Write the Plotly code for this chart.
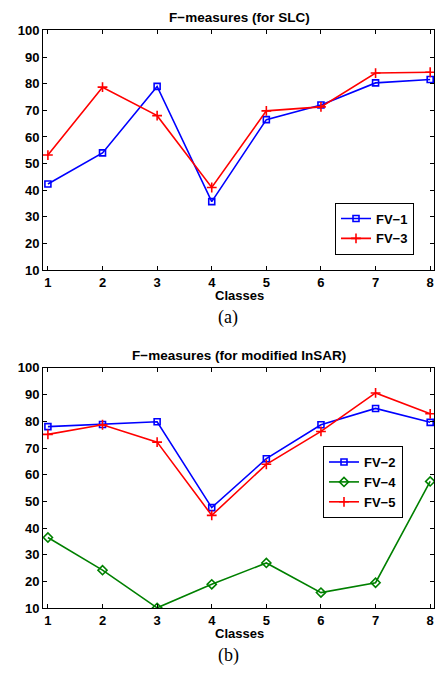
import plotly.graph_objects as go

classes = [1, 2, 3, 4, 5, 6, 7, 8]
fv1 = [42.3, 54.0, 79.0, 35.7, 66.5, 72.0, 80.3, 81.6]
fv3 = [53.2, 78.7, 68.0, 41.0, 69.8, 71.3, 84.0, 84.3]
fv2 = [78.0, 78.8, 79.8, 47.7, 66.0, 78.7, 84.8, 79.6]
fv4 = [36.5, 24.3, 10.2, 19.0, 27.0, 15.9, 19.6, 57.5]
fv5 = [75.1, 78.7, 72.2, 44.8, 63.9, 76.2, 90.6, 82.8]
yticks = [10, 20, 30, 40, 50, 60, 70, 80, 90, 100]

W, H = 438, 677
BOLD = dict(family="Liberation Sans", size=13, color="black", weight="bold")

def px_y(top, bottom):
    return [1 - bottom / H, 1 - top / H]

fig = go.Figure()

def add(x, y, name, color, symbol, size, xa, ya, legend):
    fig.add_trace(go.Scatter(
        x=x, y=y, name=name, mode="lines+markers",
        line=dict(color=color, width=1.6),
        marker=dict(symbol=symbol, size=size, color=color,
                    line=dict(color=color, width=1.6)),
        xaxis=xa, yaxis=ya, legend=legend))

add(classes, fv1, "FV−1", "#0000ff", "square-open", 6, "x", "y", "legend")
add(classes, fv3, "FV−3", "#ff0000", "cross-thin-open", 7, "x", "y", "legend")
add(classes, fv2, "FV−2", "#0000ff", "square-open", 6, "x2", "y2", "legend2")
add(classes, fv4, "FV−4", "#008000", "diamond-open", 7, "x2", "y2", "legend2")
add(classes, fv5, "FV−5", "#ff0000", "cross-thin-open", 7, "x2", "y2", "legend2")

xdom = [43 / W, 434 / W]
axcommon = dict(showline=True, linecolor="black", linewidth=1, mirror="ticks",
                ticks="inside", ticklen=4, tickcolor="black", showgrid=False,
                zeroline=False, tickfont=BOLD)

LEGFONT = dict(family="Liberation Sans", size=13, color="black", weight="bold")
fig.update_layout(
    width=W, height=H, margin=dict(l=0, r=0, t=0, b=0),
    paper_bgcolor="white", plot_bgcolor="white",
    xaxis=dict(domain=xdom, range=[0.91, 8.07], tickvals=classes, anchor="y", **axcommon),
    yaxis=dict(domain=px_y(24, 269), range=[10, 100], tickvals=yticks, anchor="x", **axcommon),
    xaxis2=dict(domain=xdom, range=[0.91, 8.07], tickvals=classes, anchor="y2", **axcommon),
    yaxis2=dict(domain=px_y(369, 615), range=[10, 100], tickvals=yticks, anchor="x2", **axcommon),
    legend=dict(x=335 / W, y=1 - 200 / H, xanchor="left", yanchor="top",
                bordercolor="black", borderwidth=1, bgcolor="white",
                font=LEGFONT, tracegroupgap=0, itemwidth=30),
    legend2=dict(x=323 / W, y=1 - 449 / H, xanchor="left", yanchor="top",
                 bordercolor="black", borderwidth=1, bgcolor="white",
                 font=LEGFONT, tracegroupgap=0, itemwidth=30),
    showlegend=True,
)

def ann(text, x, y, font):
    fig.add_annotation(text=text, x=x / W, y=1 - y / H, xref="paper", yref="paper",
                       showarrow=False, xanchor="center", yanchor="middle", font=font)

TITLE = dict(family="Liberation Sans", size=13.5, color="black", weight="bold")
XLAB = dict(family="Liberation Sans", size=13, color="black", weight="bold")
SERIF = dict(family="Liberation Serif", size=18, color="black")
ann("F−measures (for SLC)", 239, 11, TITLE)
ann("Classes", 239, 295, XLAB)
ann("(a)", 228, 318, SERIF)
ann("F−measures (for modified InSAR)", 239, 356, TITLE)
ann("Classes", 239, 641, XLAB)
ann("(b)", 228, 663, SERIF)

fig.write_html("out.html")
